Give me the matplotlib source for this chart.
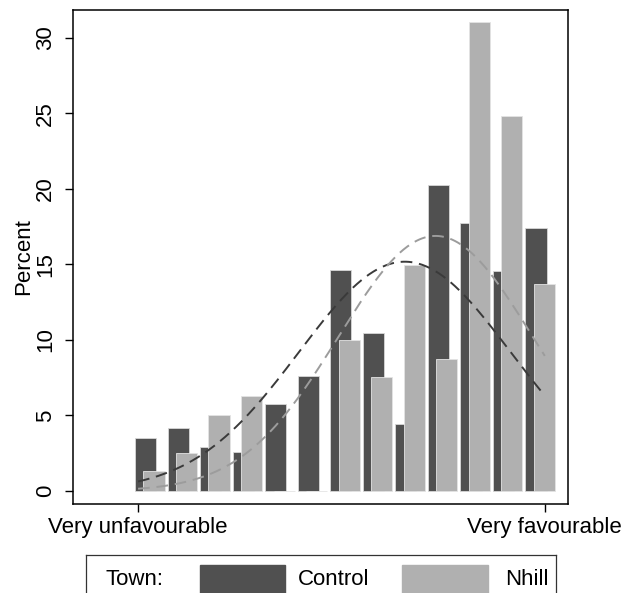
import numpy as np
import matplotlib
matplotlib.use("Agg")
import matplotlib.pyplot as plt
from matplotlib.patches import Rectangle

# ---------- data ----------
bin_starts = [0, 8, 16, 24, 32, 40, 48, 56, 64, 72, 80, 88, 96]
control_pct = [3.54, 4.18, 2.90, 2.61, 5.75, 7.61, 14.62, 10.46, 4.47, 20.27, 17.76, 14.60, 17.39]
nhill_pct = [1.33, 2.55, 5.04, 6.26, 0.0, 0.0, 9.98, 7.54, 14.98, 8.76, 31.06, 24.84, 13.70]

xtick_pos = [0, 100]
xtick_labels = ["Very unfavourable", "Very favourable"]
ytick_pos = [0, 5, 10, 15, 20, 25, 30]
# ----------------------------------------------------

plt.rcParams["font.family"] = ["Liberation Sans", "DejaVu Sans"]

DARK = "#505050"
LIGHT = "#b0b0b0"
BIN_W = 8.0
BAR_W = 5.2
CTRL_SHIFT = -0.75
NHILL_SHIFT = 1.3
FS = 16

W, H = 621, 593
fig = plt.figure(figsize=(W / 100, H / 100), dpi=100)
ax = fig.add_axes([73 / W, (H - 504) / H, (568 - 73) / W, (504 - 10) / H])

starts = np.array(bin_starts, dtype=float)
ctrl = np.array(control_pct)
nhill = np.array(nhill_pct)

ax.bar(starts + CTRL_SHIFT, ctrl, width=BAR_W, align="edge", color=DARK,
       edgecolor="#d8d8d8", linewidth=0.6, zorder=2)
ax.bar(starts + NHILL_SHIFT, nhill, width=BAR_W, align="edge", color=LIGHT,
       edgecolor="#e4e4e4", linewidth=0.6, zorder=3)


# normal curves fitted to each histogram
def normal_curve(centers, weights):
    total = weights.sum()
    mu = (centers * weights).sum() / total
    sd = np.sqrt(((centers - mu) ** 2 * weights).sum() / total)
    xs = np.linspace(0, 100, 300)
    ys = total * BIN_W * np.exp(-0.5 * ((xs - mu) / sd) ** 2) / (sd * np.sqrt(2 * np.pi))
    return xs, ys


cx, cy = normal_curve(starts + CTRL_SHIFT + BAR_W / 2, ctrl)
nx, ny = normal_curve(starts + NHILL_SHIFT + BAR_W / 2, nhill)
ax.plot(cx, cy * 0.98, color="#3a3a3a", lw=1.4, dashes=(6, 3.5), zorder=4)
ax.plot(nx, ny, color="#9c9c9c", lw=1.4, dashes=(6, 3.5), zorder=4)

ax.set_xlim(-16.0, 105.7)
ax.set_ylim(-0.86, 31.85)
ax.set_xticks(xtick_pos)
ax.set_xticklabels(xtick_labels, fontsize=FS)
ax.set_yticks(ytick_pos)
ax.set_yticklabels([str(v) for v in ytick_pos], fontsize=FS, rotation=90, va="center")
ax.tick_params(axis="y", length=6, width=1, pad=6)
ax.tick_params(axis="x", length=6, width=1, pad=3)
ax.set_ylabel("Percent", fontsize=FS, labelpad=1)
for s in ax.spines.values():
    s.set_linewidth(1.1)
    s.set_color("black")

# ---- legend box (runs off the bottom edge like the original) ----
lax = fig.add_axes([85.5 / W, -20 / H, (555.5 - 85.5) / W, (613 - 555.4) / H])
lax.set_xlim(85.5, 555.5)
lax.set_ylim(613, 555.4)
lax.set_xticks([])
lax.set_yticks([])
for s in lax.spines.values():
    s.set_linewidth(0.9)
    s.set_color("#333333")
lax.add_patch(Rectangle((199.5, 565), 85.5, 40, color=DARK))
lax.add_patch(Rectangle((402, 565), 85.5, 40, color=LIGHT))
lax.text(106, 585, "Town:", fontsize=FS, va="baseline", ha="left")
lax.text(298, 585, "Control", fontsize=FS, va="baseline", ha="left")
lax.text(549, 585, "Nhill", fontsize=FS, va="baseline", ha="right")

fig.savefig("out.png", dpi=100)
